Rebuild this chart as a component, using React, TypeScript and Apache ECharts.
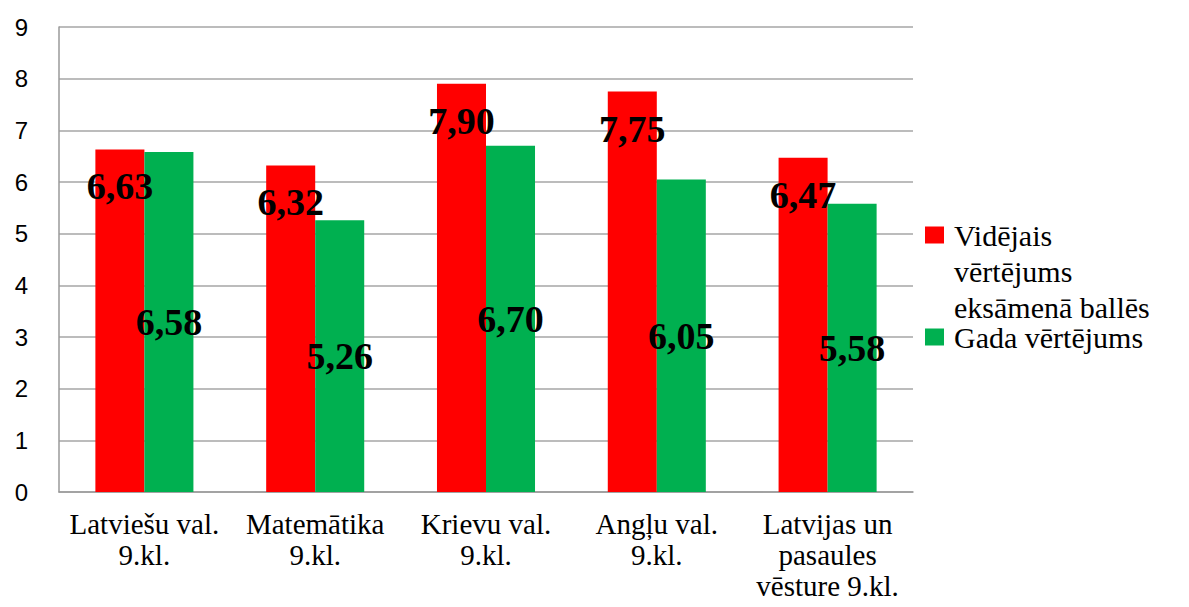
import React, { useEffect, useRef } from "react";
import * as echarts from "echarts";

const categories = [
  "Latviešu val.\n9.kl.",
  "Matemātika\n9.kl.",
  "Krievu val.\n9.kl.",
  "Angļu val.\n9.kl.",
  "Latvijas un\npasaules\nvēsture 9.kl.",
];
const examScores = [6.63, 6.32, 7.9, 7.75, 6.47];
const yearScores = [6.58, 5.26, 6.7, 6.05, 5.58];
const yTicks = { min: 0, max: 9, interval: 1 };

const SERIF = "'Liberation Serif', 'Times New Roman', serif";
const SANS = "'Liberation Sans', Arial, sans-serif";
const RED_NAME = "Vidējais vērtējums eksāmenā ballēs";
const GREEN_NAME = "Gada vērtējums";

const fmt = (p: any) => Number(p.value).toFixed(2).replace(".", ",");

export default function App() {
  const ref = useRef<HTMLDivElement>(null);
  useEffect(() => {
    if (!ref.current) return;
    const chart = echarts.init(ref.current, undefined, { renderer: "svg" });
    const labelBase = {
      show: true,
      formatter: fmt,
      color: "#000",
      fontFamily: SERIF,
      fontWeight: "bold" as const,
      fontSize: 38,
    };
    const legendText = {
      fontFamily: SERIF,
      fontSize: 30,
      lineHeight: 36,
      color: "#000",
      padding: [0, 0, 0, 5],
    };
    chart.setOption({
      animation: false,
      backgroundColor: "#fff",
      grid: { left: 51, right: 268, top: 19, bottom: 107, outerBoundsMode: "none" },
      legend: [
        {
          orient: "vertical",
          left: 917,
          top: 137,
          padding: 0,
          itemWidth: 19,
          itemHeight: 17,
          icon: "rect",
          selectedMode: false,
          data: [RED_NAME],
          formatter: () => "\n\nVidējais\nvērtējums\neksāmenā ballēs",
          textStyle: legendText,
        },
        {
          orient: "vertical",
          left: 917,
          top: 311,
          padding: 0,
          itemWidth: 19,
          itemHeight: 17,
          icon: "rect",
          selectedMode: false,
          data: [GREEN_NAME],
          textStyle: legendText,
        },
      ],
      xAxis: {
        type: "category",
        data: categories,
        axisLine: { lineStyle: { color: "#9a9a9a", width: 1.5 } },
        axisTick: { show: false },
        axisLabel: {
          interval: 0,
          fontFamily: SERIF,
          fontSize: 29,
          lineHeight: 31,
          color: "#000",
          margin: 16,
        },
      },
      yAxis: {
        type: "value",
        min: yTicks.min,
        max: yTicks.max,
        interval: yTicks.interval,
        axisLine: { show: true, lineStyle: { color: "#9a9a9a", width: 1.5 } },
        axisTick: { show: false },
        splitLine: { lineStyle: { color: "#a6a6a6", width: 1.5 } },
        axisLabel: {
          fontFamily: SANS,
          fontSize: 24,
          color: "#000",
          margin: 31,
        },
      },
      series: [
        {
          name: RED_NAME,
          type: "bar",
          data: examScores,
          barGap: "0%",
          barCategoryGap: "42.6%",
          itemStyle: { color: "#FF0000" },
          label: { ...labelBase, position: "insideTop", distance: 18 },
        },
        {
          name: GREEN_NAME,
          type: "bar",
          data: yearScores,
          itemStyle: { color: "#00B050" },
          label: { ...labelBase, position: "inside" },
        },
      ],
    });
    return () => chart.dispose();
  }, []);
  return <div ref={ref} style={{ width: 1173, height: 591 }} />;
}
